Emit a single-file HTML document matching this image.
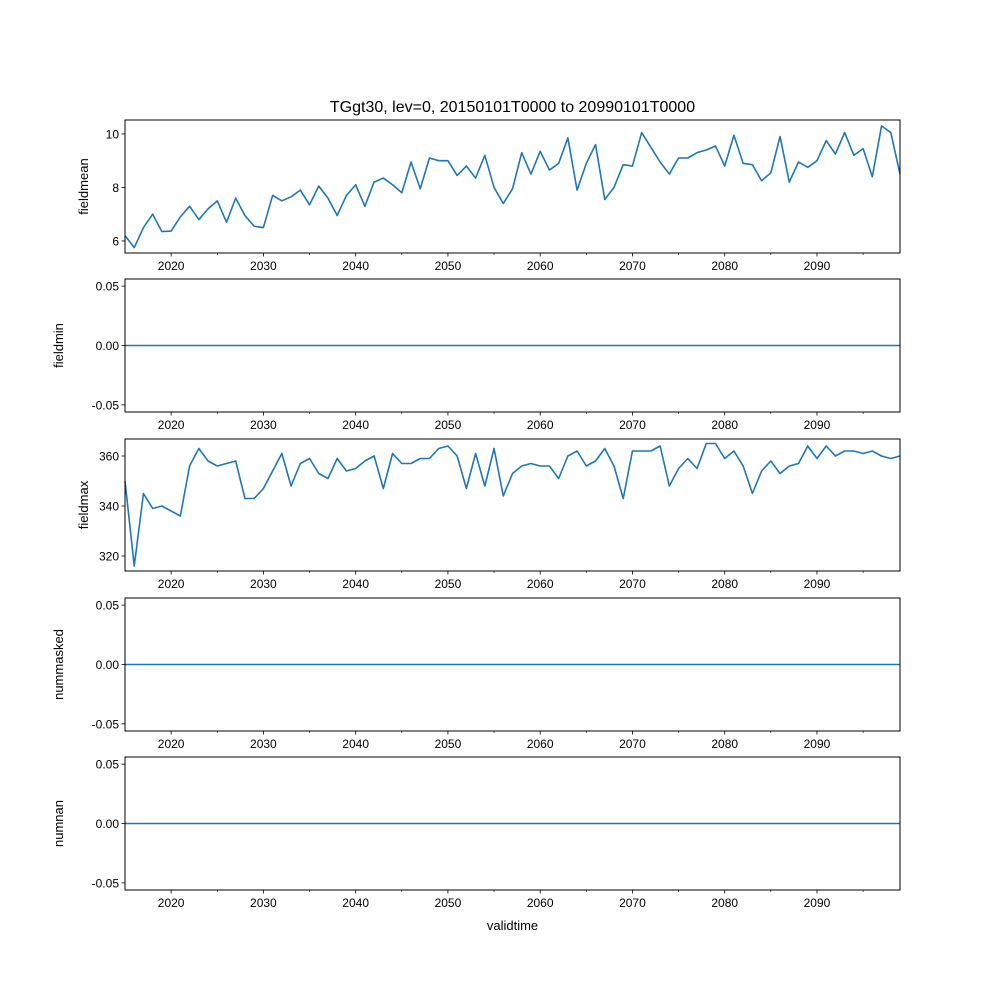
<!DOCTYPE html>
<html><head><meta charset="utf-8">
<style>
html,body{margin:0;padding:0;background:#fff;}
svg{display:block;font-family:"Liberation Sans","DejaVu Sans",sans-serif;}
</style></head>
<body>
<svg id="chart" width="1000" height="1000" viewBox="0 0 1000 1000" xmlns="http://www.w3.org/2000/svg">
<rect width="1000" height="1000" fill="#fff"/>
<text x="512.5" y="112" text-anchor="middle" font-size="16">TGgt30, lev=0, 20150101T0000 to 20990101T0000</text>
<text x="512.5" y="930" text-anchor="middle" font-size="13">validtime</text>
<g id="panels"></g>
</svg>
<script>
const years = [];
for (let y = 2015; y <= 2099; y++) years.push(y);
const fieldmean = [6.2,5.75,6.5,7.0,6.35,6.37,6.9,7.3,6.8,7.2,7.5,6.7,7.6,6.95,6.55,6.5,7.7,7.5,7.65,7.9,7.35,8.05,7.6,6.95,7.7,8.1,7.3,8.2,8.35,8.1,7.8,8.95,7.95,9.1,9.0,9.0,8.45,8.8,8.35,9.2,8.0,7.4,7.95,9.3,8.5,9.35,8.65,8.9,9.85,7.9,8.9,9.6,7.55,8.0,8.85,8.8,10.05,9.5,8.95,8.5,9.1,9.1,9.3,9.4,9.55,8.8,9.95,8.9,8.85,8.25,8.55,9.9,8.2,8.95,8.75,9.0,9.75,9.25,10.05,9.2,9.45,8.4,10.3,10.05,8.5];
const fieldmin = years.map(() => 0);
const fieldmax = [350,316,345,339,340,338,336,356,363,358,356,357,358,343,343,347,354,361,348,357,359,353,351,359,354,355,358,360,347,361,357,357,359,359,363,364,360,347,361,348,363,344,353,356,357,356,356,351,360,362,356,358,363,356,343,362,362,362,364,348,355,359,355,365,365,359,362,356,345,354,358,353,356,357,364,359,364,360,362,362,361,362,360,359,360];
const nummasked = years.map(() => 0);
const numnan = years.map(() => 0);
const xTicks = [2020,2030,2040,2050,2060,2070,2080,2090];
const xMinor = [2025,2035,2045,2055,2065,2075,2085,2095];
const ticksMean = [6,8,10];
const ticksMax = [320,340,360];
const ticksZero = [-0.05,0.00,0.05];

const NS = "http://www.w3.org/2000/svg";
const L = 125, R = 900;
const xs = v => L + (v - 2015) / (2099 - 2015) * (R - L);

const panels = [
  {name:"fieldmean", data:fieldmean, top:120, bot:253, min:5.55, max:10.52, ticks:ticksMean, fmt:v=>String(v)},
  {name:"fieldmin", data:fieldmin, top:279, bot:412, min:-0.056, max:0.056, ticks:ticksZero, fmt:v=>v.toFixed(2)},
  {name:"fieldmax", data:fieldmax, top:439, bot:571, min:314, max:366.8, ticks:ticksMax, fmt:v=>String(v)},
  {name:"nummasked", data:nummasked, top:598, bot:731, min:-0.056, max:0.056, ticks:ticksZero, fmt:v=>v.toFixed(2)},
  {name:"numnan", data:numnan, top:757, bot:890, min:-0.056, max:0.056, ticks:ticksZero, fmt:v=>v.toFixed(2)}
];
function mk(tag, attrs, parent){ const e=document.createElementNS(NS,tag); for(const k in attrs) e.setAttribute(k,attrs[k]); parent.appendChild(e); return e; }
const root = document.getElementById("panels");
panels.forEach(p => {
  const g = mk("g", {}, root);
  
  
  const ys = v => p.bot - (v - p.min) / (p.max - p.min) * (p.bot - p.top);
  const pts = p.data.map((v,i) => xs(years[i]).toFixed(2) + "," + ys(v).toFixed(2)).join(" ");
  const line = mk("polyline", {points:pts, fill:"none", stroke:"#1f77b4", "stroke-width":1.6, "stroke-linejoin":"round"}, g);
  
  
  const frame = mk("rect", {x:L, y:p.top, width:R-L, height:p.bot-p.top, fill:"none", stroke:"#000", "stroke-width":1}, g);
  
  
  xTicks.forEach(t => {
    const x = xs(t);
    mk("line", {x1:x, x2:x, y1:p.bot, y2:p.bot+3.5, stroke:"#000", "stroke-width":0.8}, g);
    const tx = mk("text", {x:x, y:p.bot+17, "text-anchor":"middle", "font-size":"12"}, g);
    tx.textContent = t;
    
    
  });
  xMinor.forEach(t => {
    const x = xs(t);
    mk("line", {x1:x, x2:x, y1:p.bot, y2:p.bot+2, stroke:"#000", "stroke-width":0.6}, g);
  });
  p.ticks.forEach(t => {
    const y = ys(t);
    mk("line", {x1:L-3.5, x2:L, y1:y, y2:y, stroke:"#000", "stroke-width":0.8}, g);
    const tx = mk("text", {x:L-6, y:y+4.5, "text-anchor":"end", "font-size":"12"}, g);
    tx.textContent = p.fmt(t);
    
    
  });
  const cy = (p.top + p.bot) / 2;
  const lx = p.fmt(p.ticks[0]).length > 4 ? 63 : 88;
  const lab = mk("text", {x:lx, y:cy, "text-anchor":"middle", "font-size":"13", transform:"rotate(-90 "+lx+" "+cy+")"}, g);
  lab.textContent = p.name;
  
  
});
</script>
</body></html>
